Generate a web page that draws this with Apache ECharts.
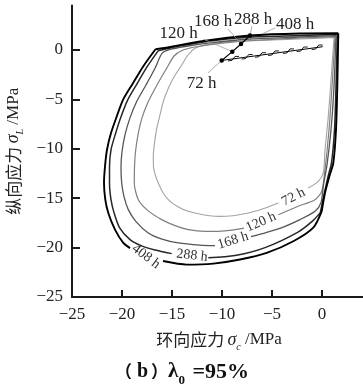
<!DOCTYPE html>
<html>
<head>
<meta charset="utf-8">
<script src="https://cdn.jsdelivr.net/npm/echarts@6/dist/echarts.min.js"></script>
<style>
  html, body { margin: 0; padding: 0; background: #fff; }
  #chart { width: 363px; height: 385px; }
</style>
</head>
<body>
<div id="chart"></div>
<script>
// GAP: the curve is interrupted where its tag is written.
// CORNER: the curve turns sharply; the corner point is repeated after it.
const GAP = null;
const CORNER = null;

// Ageing times of the five stress envelopes
const hourNames = ['72 h', '120 h', '168 h', '288 h', '408 h'];

// Envelopes: [hoop stress σc, longitudinal stress σL] in MPa
const curve72 = [
  [1.2, 1.26], [-2.2, 1.11], [-6.2, 0.96], [-9.7, 0.81], [-11.7, 0.51], [-12.7, 0.17],
  [-13.4, -0.51], [-14.03, -1.52], [-14.8, -2.73], [-15.37, -3.87], [-15.85, -5.15],
  [-16.2, -6.57], [-16.55, -8.08], [-16.77, -9.6], [-16.87, -10.71], [-16.85, -11.82],
  [-16.65, -12.73], [-16.37, -13.46], [-15.95, -14.34], [-15.37, -15.15], [-14.5, -15.81],
  [-13.37, -16.33], [-11.9, -16.67], [-10.37, -16.84], [-8.9, -16.77], [-7.37, -16.5],
  [-5.9, -16.06], [-4.37, -15.48], GAP,
  [-1.37, -13.97], [-0.37, -13.3], [0.13, -12.45], [0.3, -10.1], [0.6, -7.07],
  [0.85, -3.74], [1.2, 1.26]
];
const curve120 = [
  [1.3, 1.36], [-2.2, 1.21], [-6.2, 1.01], [-10.2, 0.66], [-12.7, 0.3], [-14.0, -0.05],
  [-14.8, -0.61], [-15.53, -1.85], [-16.5, -3.54], [-17.37, -5.22], [-18.0, -6.87],
  [-18.4, -8.59], [-18.65, -10.3], [-18.75, -11.92], [-18.77, -13.46], [-18.37, -15.15],
  [-17.4, -16.26], [-16.03, -17.17], [-14.7, -17.78], [-13.37, -18.18], [-11.7, -18.36],
  [-10.37, -18.35], [-9.0, -18.23], [-7.8, -18.03], GAP,
  [-4.37, -16.67], [-2.5, -15.86], [-0.7, -15.15], [-0.03, -14.31], [0.3, -12.12],
  [0.7, -8.08], [1.0, -3.74], [1.3, 1.36]
];
const curve168 = [
  [1.4, 1.46], [-2.2, 1.31], [-7.2, 1.11], [-11.2, 0.71], [-13.7, 0.35], [-15.2, 0.05],
  [-16.0, -0.35], [-16.7, -1.85], [-17.6, -3.54], [-18.53, -5.22], [-19.2, -6.87],
  [-19.7, -8.59], [-20.0, -10.3], [-20.1, -11.92], [-20.03, -13.46], [-19.8, -14.85],
  [-19.37, -16.16], [-18.6, -17.37], [-17.37, -18.52], [-16.0, -19.14], [-14.37, -19.53],
  [-12.2, -19.75], [-10.7, -19.8], GAP,
  [-7.1, -18.89], [-5.6, -18.48], [-4.0, -17.98], [-2.2, -17.17], [-0.7, -16.33],
  [-0.1, -15.45], [0.15, -13.64], [0.5, -11.62], [0.9, -8.08], [1.2, -3.74], [1.4, 1.46]
];
const curve288 = [
  [1.53, 1.59], [-2.2, 1.46], [-7.2, 1.31], [-12.2, 0.76], [-15.2, 0.2], [-16.37, -0.07], CORNER,
  [-16.37, -0.07], [-17.5, -1.72], [-18.5, -3.43], [-19.45, -5.1], [-20.1, -6.77],
  [-20.65, -8.48], [-21.1, -10.1], [-21.25, -11.82], [-21.25, -13.46], [-21.1, -15.15],
  [-20.8, -16.46], [-20.25, -17.98], [-19.2, -19.19], [-18.03, -19.83], [-16.7, -20.25],
  [-15.03, -20.61], GAP,
  [-11.37, -21.04], [-8.7, -20.81], [-5.7, -20.0], [-2.4, -18.43], [-0.9, -17.27],
  [-0.17, -16.46], CORNER,
  [-0.17, -16.46], [0.2, -14.65], [0.6, -12.83], [0.95, -11.41], [1.25, -8.08],
  [1.4, -3.74], [1.53, 1.59]
];
const curve408 = [
  [1.63, 1.69], [-2.2, 1.67], [-7.2, 1.46], [-12.2, 0.86], [-15.2, 0.3], [-16.65, 0.07], CORNER,
  [-16.65, 0.07], [-17.9, -1.69], [-18.9, -3.36], [-19.9, -5.05], [-20.53, -6.74],
  [-21.1, -8.41], [-21.5, -10.1], [-21.7, -11.79], [-21.8, -13.46], [-21.67, -15.15],
  [-21.37, -16.5], [-20.7, -18.18], [-19.87, -19.53], [-19.2, -20.05], GAP,
  [-15.9, -21.36], [-13.53, -21.72], [-10.87, -21.62], [-8.2, -21.21], [-5.53, -20.54],
  [-2.87, -19.36], [-0.87, -17.98], [-0.03, -16.33], CORNER,
  [-0.03, -16.33], [0.3, -14.47], [0.73, -12.8], [1.13, -11.44], [1.4, -8.08],
  [1.53, -3.71], [1.63, 1.69]
];

// Where each envelope carries its own tag
const curveTagAt = [[-2.85, -14.9], [-6.1, -17.42], [-8.9, -19.29], [-13.0, -20.81], [-17.6, -20.9]];

// Operating point drifting with time, and the callouts pointing at it
const driftPoints = [[-10.03, -1.06], [-8.97, -0.17], [-8.1, 0.61], [-7.2, 1.46], [-6.0, 1.62]];
const calloutAt = [[-12.05, -3.38], [-14.35, 1.62], [-10.9, 2.83], [-6.9, 3.03], [-2.7, 2.53]];
const calloutFrom = [[-11.4, -2.32], [-11.9, 1.11], [-9.4, 2.12], [-7.0, 2.42], [-4.7, 2.22]];

// Hatched loading path
const loadPath = [[-10.03, -1.06], [0.07, 0.33]];
const loadHatches = [[-8.9, -0.905], [-7.53, -0.716], [-6.2, -0.533], [-4.9, -0.354], [-3.4, -0.148], [-2.03, 0.041], [-0.53, 0.247]];

// Axis ticks
const xTicks = [-25, -20, -15, -10, -5, 0];
const yTicks = [-25, -20, -15, -10, -5, 0];

const curves = [curve72, curve120, curve168, curve288, curve408];
const curveColors = ['#a3a3a3', '#7f7f7f', '#555555', '#262626', '#000000'];
const curveWidths = [1.1, 1.2, 1.3, 1.5, 1.9];
const curveTagTilt = [27, 24, 17, -6, -37];

const SERIF = "'Liberation Serif', 'Times New Roman', serif";
const CJK = "'Noto Sans CJK SC', sans-serif";
const minus = v => String(v).replace('-', '\u2212');

const chart = echarts.init(document.getElementById('chart'), null, { renderer: 'canvas' });

const series = [];
curves.forEach((c, i) => {
  series.push({
    type: 'line',
    data: c.map(p => (p === null ? ['-', '-'] : p)),
    smooth: 0.25,
    showSymbol: false,
    connectNulls: false,
    lineStyle: { color: curveColors[i], width: curveWidths[i], join: 'round' },
    silent: true,
    z: 2 + i
  });
});

// Tags written along the envelopes
series.push({
  type: 'custom',
  data: curveTagAt.map((p, i) => [p[0], p[1], i]),
  renderItem(params, api) {
    const i = api.value(2);
    const p = api.coord([api.value(0), api.value(1)]);
    return {
      type: 'text', x: p[0], y: p[1], rotation: curveTagTilt[i] * Math.PI / 180,
      style: { text: hourNames[i], font: '14px ' + SERIF, fill: '#333', align: 'center', verticalAlign: 'middle' }
    };
  },
  z: 10
});

// Callout leaders
series.push({
  type: 'lines',
  coordinateSystem: 'cartesian2d',
  data: calloutFrom.map((p, i) => ({ coords: [p, driftPoints[i]] })),
  lineStyle: { color: '#9a9a9a', width: 0.8, opacity: 1 },
  silent: true,
  z: 8
});

// Callout texts
series.push({
  type: 'custom',
  data: calloutAt.map((p, i) => [p[0], p[1], i]),
  renderItem(params, api) {
    const i = api.value(2);
    const p = api.coord([api.value(0), api.value(1)]);
    return {
      type: 'text', x: p[0], y: p[1],
      style: { text: hourNames[i], font: '17px ' + SERIF, fill: '#222', align: 'center', verticalAlign: 'middle' }
    };
  },
  z: 10
});

// Drift of the operating point
series.push({
  type: 'line',
  data: driftPoints.slice(0, 4),
  showSymbol: true,
  symbol: 'circle',
  symbolSize: 4.5,
  itemStyle: { color: '#000' },
  lineStyle: { color: '#000', width: 1.2 },
  silent: true,
  z: 9
});

// Loading path with hatches
series.push({
  type: 'line',
  data: loadPath,
  showSymbol: false,
  lineStyle: { color: '#000', width: 1 },
  silent: true,
  z: 9
});
series.push({
  type: 'custom',
  data: loadHatches,
  renderItem(params, api) {
    const p = api.coord([api.value(0), api.value(1)]);
    return {
      type: 'polyline',
      shape: { points: [[p[0] - 5, p[1] + 2], [p[0] - 1, p[1] + 1.5], [p[0] + 2, p[1] - 2.5], [p[0] + 6, p[1] - 2.5]] },
      style: { stroke: '#000', lineWidth: 0.9, fill: null }
    };
  },
  z: 9
});

const option = {
  animation: false,
  backgroundColor: '#fff',
  title: {
    left: 110,
    top: 356,
    text: '{p|（}{b|b}{p|）}{l|λ}{s|0}{e| =95%}',
    textStyle: {
      rich: {
        p: { fontFamily: CJK, fontSize: 17, color: '#111' },
        b: { fontFamily: SERIF, fontSize: 20, fontWeight: 'bold', color: '#111', padding: [0, 3, 0, 5] },
        l: { fontFamily: SERIF, fontSize: 21, fontWeight: 'bold', color: '#111' },
        s: { fontFamily: SERIF, fontSize: 13, fontWeight: 'bold', color: '#111', verticalAlign: 'bottom', padding: [0, 2, -4, 0] },
        e: { fontFamily: SERIF, fontSize: 22, fontWeight: 'bold', color: '#111' }
      }
    }
  },
  grid: { left: 72, right: -3, top: 5.5, bottom: 88, containLabel: false, outerBoundsMode: 'none' },
  xAxis: {
    type: 'value',
    min: -25, max: 4.4, interval: 5,
    name: '{c|环向应力} {g|σ}{u|c}{m| /MPa}',
    nameLocation: 'middle',
    nameGap: 34,
    nameTextStyle: {
      rich: {
        c: { fontFamily: CJK, fontSize: 17, color: '#222' },
        g: { fontFamily: SERIF, fontSize: 18, fontStyle: 'italic', color: '#222' },
        u: { fontFamily: SERIF, fontSize: 10, fontStyle: 'italic', color: '#222', verticalAlign: 'bottom', padding: [0, 0, -3, 0] },
        m: { fontFamily: SERIF, fontSize: 17, color: '#222' }
      }
    },
    axisLine: { show: true, onZero: false, lineStyle: { color: '#1a1a1a', width: 2 } },
    axisTick: { show: true, inside: true, length: 7, lineStyle: { color: '#1a1a1a', width: 2 } },
    axisLabel: {
      margin: 9, fontFamily: SERIF, fontSize: 17, color: '#222', showMaxLabel: false,
      formatter: v => (xTicks.indexOf(v) >= 0 ? minus(v) : '')
    },
    splitLine: { show: false }
  },
  yAxis: {
    type: 'value',
    min: -25, max: 4.5, interval: 5,
    name: '{c|纵向应力} {g|σ}{u|L}{m| /MPa}',
    nameLocation: 'middle',
    nameGap: 41,
    nameTextStyle: {
      rich: {
        c: { fontFamily: CJK, fontSize: 17, color: '#222' },
        g: { fontFamily: SERIF, fontSize: 18, fontStyle: 'italic', color: '#222' },
        u: { fontFamily: SERIF, fontSize: 10, fontStyle: 'italic', color: '#222', verticalAlign: 'bottom', padding: [0, 0, -3, 0] },
        m: { fontFamily: SERIF, fontSize: 17, color: '#222' }
      }
    },
    axisLine: { show: true, onZero: false, lineStyle: { color: '#1a1a1a', width: 2 } },
    axisTick: { show: true, inside: true, length: 8, lineStyle: { color: '#1a1a1a', width: 2 } },
    axisLabel: {
      margin: 9, fontFamily: SERIF, fontSize: 17, color: '#222', showMaxLabel: false,
      formatter: v => (yTicks.indexOf(v) >= 0 ? minus(v) : '')
    },
    splitLine: { show: false }
  },
  series: series
};

chart.setOption(option);
</script>
</body>
</html>
